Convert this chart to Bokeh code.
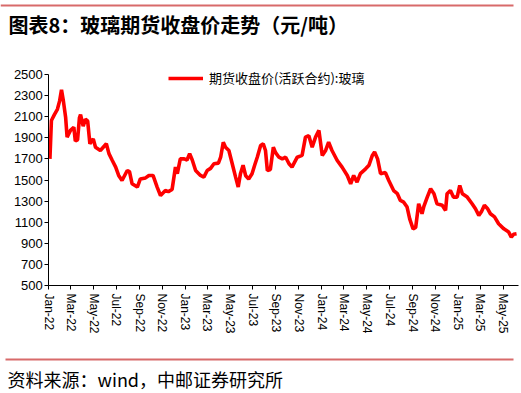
import pandas as pd
from bokeh.plotting import figure
from bokeh.models import (FixedTicker, DatetimeTickFormatter, Legend, LegendItem,
                          Label, BoxAnnotation, Range1d)
from bokeh.embed import file_html
from bokeh.resources import INLINE

# ---------------- data ----------------
dates = [
    "2022-01-04", "2022-01-08", "2022-01-16", "2022-01-24", "2022-01-30", "2022-02-04",
    "2022-02-09", "2022-02-15", "2022-02-19", "2022-02-28", "2022-03-09", "2022-03-13",
    "2022-03-19", "2022-03-24", "2022-03-27", "2022-04-03", "2022-04-09", "2022-04-15",
    "2022-04-21", "2022-04-30", "2022-05-06", "2022-05-19", "2022-06-04", "2022-06-11",
    "2022-06-20", "2022-06-29", "2022-07-07", "2022-07-16", "2022-07-30", "2022-08-05",
    "2022-08-12", "2022-08-26", "2022-09-03", "2022-09-17", "2022-09-26", "2022-10-07",
    "2022-10-18", "2022-10-27", "2022-11-09", "2022-11-17", "2022-11-27", "2022-12-06",
    "2022-12-11", "2022-12-19", "2022-12-28", "2023-01-06", "2023-01-13", "2023-01-20",
    "2023-01-29", "2023-02-11", "2023-02-20", "2023-03-01", "2023-03-10", "2023-03-19",
    "2023-03-31", "2023-04-06", "2023-04-13", "2023-04-19", "2023-04-28", "2023-05-07",
    "2023-05-16", "2023-05-23", "2023-05-29", "2023-06-05", "2023-06-12", "2023-06-20",
    "2023-06-29", "2023-07-06", "2023-07-13", "2023-07-22", "2023-07-29", "2023-08-04",
    "2023-08-09", "2023-08-17", "2023-08-25", "2023-08-31", "2023-09-09", "2023-09-18",
    "2023-09-27", "2023-10-06", "2023-10-14", "2023-10-28", "2023-11-10", "2023-11-19",
    "2023-11-28", "2023-12-07", "2023-12-16", "2023-12-25", "2024-01-03", "2024-01-12",
    "2024-01-20", "2024-01-29", "2024-02-12", "2024-02-25", "2024-03-10", "2024-03-19",
    "2024-03-27", "2024-04-05", "2024-04-14", "2024-04-28", "2024-05-07", "2024-05-16",
    "2024-05-22", "2024-05-30", "2024-06-07", "2024-06-20", "2024-06-29", "2024-07-12",
    "2024-07-22", "2024-07-30", "2024-08-08", "2024-08-17", "2024-08-24", "2024-09-02",
    "2024-09-09", "2024-09-17", "2024-09-26", "2024-10-01", "2024-10-10", "2024-10-19",
    "2024-10-28", "2024-11-05", "2024-11-19", "2024-11-28", "2024-12-02", "2024-12-11",
    "2024-12-19", "2024-12-29", "2025-01-05", "2025-01-12", "2025-01-25", "2025-02-07",
    "2025-02-16", "2025-02-25", "2025-03-04", "2025-03-12", "2025-03-20", "2025-03-28",
    "2025-04-08", "2025-04-19", "2025-05-03", "2025-05-16", "2025-05-23", "2025-05-29",
    "2025-06-06",
]
prices = [
    1700, 2064, 2120, 2170, 2250, 2355,
    2250, 2095, 1906, 1970, 2000, 1870,
    1880, 2090, 2120, 2010, 2075, 2060,
    1843, 1890, 1811, 1780, 1843, 1750,
    1685, 1622, 1543, 1495, 1590, 1580,
    1464, 1433, 1510, 1520, 1543, 1543,
    1433, 1353, 1400, 1390, 1410, 1622,
    1560, 1700, 1702, 1690, 1750, 1690,
    1590, 1543, 1527, 1590, 1610, 1654,
    1660, 1716, 1858, 1811, 1780, 1654,
    1527, 1433, 1560, 1640, 1540, 1510,
    1560, 1640, 1716, 1827, 1843, 1780,
    1590, 1600, 1811, 1760, 1716, 1700,
    1716, 1654, 1622, 1716, 1733, 1906,
    1920, 1811, 1906, 1970, 1733, 1780,
    1858, 1780, 1685, 1622, 1543, 1464,
    1543, 1480, 1560, 1606, 1640, 1733,
    1765, 1700, 1560, 1570, 1495, 1400,
    1370, 1306, 1290, 1243, 1132, 1037,
    1050, 1275, 1180, 1250, 1338, 1417,
    1370, 1275, 1260, 1212, 1370, 1400,
    1338, 1338, 1448, 1370, 1338, 1275,
    1228, 1165, 1200, 1260, 1230, 1180,
    1150, 1085, 1037, 1006, 958, 985,
    990,
]
series_name = "期货收盘价(活跃合约):玻璃"
tick_dates = ["2022-01-01", "2022-03-01", "2022-05-01", "2022-07-01", "2022-09-01",
              "2022-11-01", "2023-01-01", "2023-03-01", "2023-05-01", "2023-07-01",
              "2023-09-01", "2023-11-01", "2024-01-01", "2024-03-01", "2024-05-01",
              "2024-07-01", "2024-09-01", "2024-11-01", "2025-01-01", "2025-03-01",
              "2025-05-01"]
y_ticks = [500, 700, 900, 1100, 1300, 1500, 1700, 1900, 2100, 2300, 2500]
title_text = "图表8：玻璃期货收盘价走势（元/吨）"
source_text = "资料来源：wind，中邮证券研究所"

# ---------------- geometry (frame = whole canvas) ----------------
W, H = 520, 392
AX_X0 = 48.3            # page x of the y axis (Jan-22)
AX_Y0 = 285.0           # page y of the x axis (500)
AX_Y1 = 74.0            # page y of 2500
PX_PER_DAY = 0.3736
PX_PER_UNIT = (AX_Y0 - AX_Y1) / 2000.0
ORIGIN = pd.Timestamp("2022-01-01")
X_END = pd.Timestamp("2025-06-10")


def px_x(px):
    return ORIGIN + pd.Timedelta(days=(px - AX_X0) / PX_PER_DAY)


def px_y(py):
    return 500 + (AX_Y0 - py) / PX_PER_UNIT


p = figure(width=W, height=H, x_axis_type="datetime", output_backend="svg",
           toolbar_location=None,
           x_range=Range1d(px_x(0), px_x(W)),
           y_range=Range1d(px_y(H), px_y(0)))
p.min_border = 0
p.min_border_left = p.min_border_right = p.min_border_top = p.min_border_bottom = 0
p.outline_line_color = None
p.xgrid.visible = False
p.ygrid.visible = False

r = p.line(pd.to_datetime(dates), prices, line_color="#FF0000", line_width=3.6)

num_font = "Liberation Sans"
cjk_font = "Noto Sans CJK SC"
origin_ms = ORIGIN.value / 1e6

p.yaxis.fixed_location = origin_ms
p.yaxis.bounds = (500, 2500)
p.yaxis.ticker = FixedTicker(ticks=y_ticks)
p.yaxis.axis_line_color = "#000000"
p.yaxis.major_tick_line_color = "#000000"
p.yaxis.major_tick_out = 4
p.yaxis.major_tick_in = 0
p.yaxis.minor_tick_line_color = None
p.yaxis.major_label_standoff = 2
p.yaxis.major_label_text_font = num_font
p.yaxis.major_label_text_font_size = "13px"
p.yaxis.major_label_text_color = "#000000"

tick_ms = [pd.Timestamp(d).value / 1e6 for d in tick_dates]
p.xaxis.fixed_location = 500
p.xaxis.bounds = (origin_ms, X_END.value / 1e6)
p.xaxis.ticker = FixedTicker(ticks=tick_ms)
fmt = "%b-%y"
p.xaxis.formatter = DatetimeTickFormatter(milliseconds=fmt, seconds=fmt, minsec=fmt,
                                          minutes=fmt, hourmin=fmt, hours=fmt, days=fmt,
                                          months=fmt, years=fmt)
p.xaxis.major_label_orientation = "vertical"
p.xaxis.axis_line_color = "#000000"
p.xaxis.major_tick_line_color = "#000000"
p.xaxis.major_tick_out = 4
p.xaxis.major_tick_in = 0
p.xaxis.minor_tick_line_color = None
p.xaxis.major_label_standoff = 4
p.xaxis.major_label_text_font = num_font
p.xaxis.major_label_text_font_size = "12px"
p.xaxis.major_label_text_color = "#000000"

legend = Legend(items=[LegendItem(label=series_name, renderers=[r])],
                location=(168, H - 80 - 7), orientation="horizontal",
                glyph_width=35, glyph_height=14, label_height=14,
                label_standoff=6, padding=0, margin=0, spacing=0,
                border_line_color=None, background_fill_alpha=0,
                label_text_font=cjk_font, label_text_font_size="13px",
                label_text_color="#000000")
p.add_layout(legend, "center")

# ---------------- decorations: rules, title, source ----------------
RULE_COLOR = "#D86A6A"
p.add_layout(BoxAnnotation(left=px_x(0), right=px_x(513), top=px_y(4), bottom=px_y(6),
                           fill_color=RULE_COLOR, fill_alpha=1, line_color=None))
p.add_layout(BoxAnnotation(left=px_x(5), right=px_x(513), top=px_y(358), bottom=px_y(360),
                           fill_color=RULE_COLOR, fill_alpha=1, line_color=None))
p.add_layout(Label(x=px_x(8), y=px_y(24), text=title_text, text_font=cjk_font,
                   text_font_size="20px", text_font_style="bold",
                   text_color="#000000", text_baseline="middle", text_align="left"))
p.add_layout(Label(x=px_x(7), y=px_y(378), text=source_text, text_font=cjk_font,
                   text_font_size="18px", text_color="#000000",
                   text_baseline="middle", text_align="left"))

open("out.html", "w").write(file_html(p, INLINE))
